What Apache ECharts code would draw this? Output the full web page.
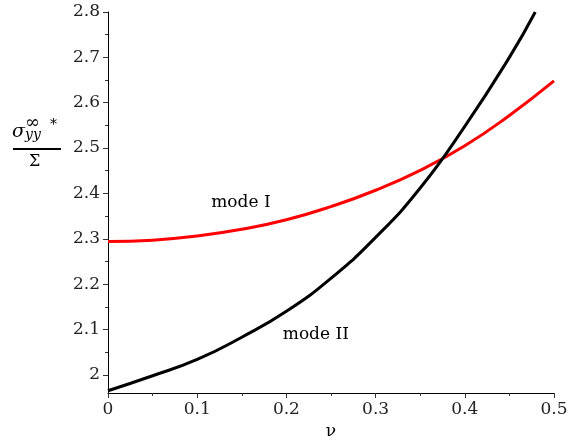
<!DOCTYPE html>
<html>
<head>
<meta charset="utf-8">
<script src="https://cdn.jsdelivr.net/npm/echarts@6/dist/echarts.min.js"></script>
<style>
html,body{margin:0;padding:0;background:#fff;}
#c{width:568px;height:441px;}
</style>
</head>
<body>
<div id="c"></div>
<script>
// Data
var nuI = [0, 0.05, 0.1, 0.15, 0.2, 0.25, 0.3, 0.35, 0.4, 0.45, 0.5];
var modeI = [2.294, 2.297, 2.306, 2.321, 2.342, 2.371, 2.407, 2.451, 2.505, 2.572, 2.648];
var nuII = [0, 0.05, 0.1, 0.15, 0.2, 0.25, 0.3, 0.35, 0.4, 0.45, 0.479];
var modeII = [1.965, 1.998, 2.034, 2.083, 2.140, 2.213, 2.303, 2.412, 2.548, 2.700, 2.800];
var yMajor = [2, 2.1, 2.2, 2.3, 2.4, 2.5, 2.6, 2.7, 2.8];
var yMinor = [2.05, 2.15, 2.25, 2.35, 2.45, 2.55, 2.65, 2.75];
var labelI = {text: 'mode I', nu: 0.149, v: 2.379};
var labelII = {text: 'mode II', nu: 0.233, v: 2.088};

function pairs(xs, ys) { return xs.map(function (x, i) { return [x, ys[i]]; }); }

var font = 'DejaVu Serif';
var chart = echarts.init(document.getElementById('c'));
var yBase = {
  type: 'value', min: 1.96, max: 2.8, position: 'left',
  splitLine: {show: false}
};
chart.setOption({
  animation: false,
  backgroundColor: '#fff',
  grid: {left: 108, right: 14, top: 12, bottom: 48, containLabel: false, outerBoundsMode: 'none'},
  xAxis: {
    type: 'value', min: 0, max: 0.5, interval: 0.1,
    name: 'ν', nameLocation: 'middle', nameGap: 30,
    nameTextStyle: {fontFamily: font, fontSize: 17, color: '#000'},
    axisLine: {show: true, onZero: false, lineStyle: {color: '#000', width: 1}},
    axisTick: {show: true, length: 5, lineStyle: {color: '#333'}},
    minorTick: {show: true, splitNumber: 2, length: 3, lineStyle: {color: '#333'}},
    axisLabel: {fontFamily: font, fontSize: 17, color: '#222', margin: 8},
    splitLine: {show: false}
  },
  yAxis: [
    Object.assign({}, yBase, {
      axisLine: {show: true, onZero: false, lineStyle: {color: '#000', width: 1}},
      axisTick: {show: true, length: 5, customValues: yMajor, lineStyle: {color: '#333'}},
      axisLabel: {fontFamily: font, fontSize: 17, color: '#222', margin: 8, customValues: yMajor}
    }),
    Object.assign({}, yBase, {
      axisLine: {show: false},
      axisTick: {show: true, length: 3, customValues: yMinor, lineStyle: {color: '#333'}},
      axisLabel: {show: false}
    })
  ],
  series: [
    {
      type: 'line', name: 'mode I', data: pairs(nuI, modeI),
      smooth: 0.5, showSymbol: false, symbol: 'none',
      lineStyle: {color: '#ff0000', width: 3}, itemStyle: {color: '#ff0000'},
      markPoint: {
        symbol: 'circle', symbolSize: 0,
        label: {show: true, position: 'inside', formatter: labelI.text,
          fontFamily: font, fontSize: 17, color: '#000'},
        data: [{coord: [labelI.nu, labelI.v]}]
      }
    },
    {
      type: 'line', name: 'mode II', data: pairs(nuII, modeII),
      smooth: 0.5, showSymbol: false, symbol: 'none',
      lineStyle: {color: '#000', width: 3}, itemStyle: {color: '#000'},
      markPoint: {
        symbol: 'circle', symbolSize: 0,
        label: {show: true, position: 'inside', formatter: labelII.text,
          fontFamily: font, fontSize: 17, color: '#000'},
        data: [{coord: [labelII.nu, labelII.v]}]
      }
    }
  ],
  graphic: [
    {type: 'text', left: 12, top: 123, style: {text: 'σ', font: 'italic 19px "DejaVu Serif"', fill: '#000'}},
    {type: 'text', left: 25, top: 114, style: {text: '∞', font: '18px "DejaVu Serif"', fill: '#000'}},
    {type: 'text', left: 25, top: 128, style: {text: 'yy', font: 'italic 14px "DejaVu Serif"', fill: '#000'}},
    {type: 'text', left: 50, top: 118, style: {text: '*', font: '14px "DejaVu Serif"', fill: '#000'}},
    {type: 'rect', shape: {x: 13, y: 148, width: 48, height: 2}, style: {fill: '#000'}},
    {type: 'text', left: 29, top: 154, style: {text: 'Σ', font: '16px "DejaVu Serif"', fill: '#000'}}
  ]
});
</script>
</body>
</html>
